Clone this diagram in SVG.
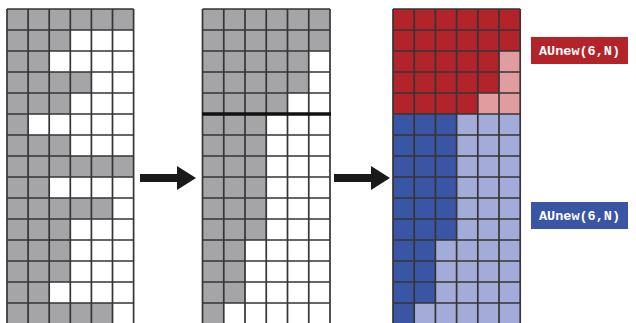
<svg xmlns="http://www.w3.org/2000/svg" width="636" height="323" viewBox="0 0 636 323">
<style>
.bg{fill:#ffffff}
.gray{fill:#a5a5a7}
.red{fill:#b3242a}
.pink{fill:#e09c9f}
.blue{fill:#3a55a3}
.lblue{fill:#a3acd8}
.grid{fill:none;stroke:#353535;stroke-width:1.7}
.split{stroke:#111;stroke-width:3.5}
.arrow{fill:#1a1a1a}
.lbl{font-family:"Liberation Mono","DejaVu Sans Mono",monospace;font-weight:bold;font-size:13.5px;fill:#ffffff;text-anchor:middle}
</style>
<rect width="636" height="323" fill="#ffffff"/>

<g id="grid-input">
<rect class="bg" x="7" y="9" width="126.6" height="315"/>
<rect class="gray" x="7" y="9" width="126.6" height="21"/>
<rect class="gray" x="7" y="30" width="63.3" height="21"/>
<rect class="gray" x="7" y="51" width="42.2" height="21"/>
<rect class="gray" x="7" y="72" width="84.4" height="21"/>
<rect class="gray" x="7" y="93" width="63.3" height="21"/>
<rect class="gray" x="7" y="114" width="21.1" height="21"/>
<rect class="gray" x="7" y="135" width="63.3" height="21"/>
<rect class="gray" x="7" y="156" width="126.6" height="21"/>
<rect class="gray" x="7" y="177" width="42.2" height="21"/>
<rect class="gray" x="7" y="198" width="105.5" height="21"/>
<rect class="gray" x="7" y="219" width="63.3" height="21"/>
<rect class="gray" x="7" y="240" width="63.3" height="21"/>
<rect class="gray" x="7" y="261" width="63.3" height="21"/>
<rect class="gray" x="7" y="282" width="42.2" height="21"/>
<rect class="gray" x="7" y="303" width="105.5" height="21"/>
<path class="grid" d="M7 9V324M28.1 9V324M49.2 9V324M70.3 9V324M91.4 9V324M112.5 9V324M133.6 9V324M7 9H133.6M7 30H133.6M7 51H133.6M7 72H133.6M7 93H133.6M7 114H133.6M7 135H133.6M7 156H133.6M7 177H133.6M7 198H133.6M7 219H133.6M7 240H133.6M7 261H133.6M7 282H133.6M7 303H133.6"/>
</g>

<g id="grid-sorted">
<rect class="bg" x="202.5" y="9" width="127.5" height="315"/>
<path class="gray" d="M202.5 9H330V51H308.75V93H287.5V114H266.25V240H245V303H223.75V324H202.5Z"/>
<path class="grid" d="M202.5 9V324M223.75 9V324M245 9V324M266.25 9V324M287.5 9V324M308.75 9V324M330 9V324M202.5 9H330M202.5 30H330M202.5 51H330M202.5 72H330M202.5 93H330M202.5 135H330M202.5 156H330M202.5 177H330M202.5 198H330M202.5 219H330M202.5 240H330M202.5 261H330M202.5 282H330M202.5 303H330"/>
<path class="split" d="M202 114H331"/>
</g>

<g id="grid-split">
<rect class="pink" x="393" y="9" width="127.2" height="105"/>
<rect class="lblue" x="393" y="114" width="127.2" height="210"/>
<path class="red" d="M393 9H520.2V51H499V93H477.8V114H393Z"/>
<path class="blue" d="M393 114H456.6V240H435.4V303H414.2V324H393Z"/>
<path class="grid" d="M393 9V324M414.2 9V324M435.4 9V324M456.6 9V324M477.8 9V324M499 9V324M520.2 9V324M393 9H520.2M393 30H520.2M393 51H520.2M393 72H520.2M393 93H520.2M393 114H520.2M393 135H520.2M393 156H520.2M393 177H520.2M393 198H520.2M393 219H520.2M393 240H520.2M393 261H520.2M393 282H520.2M393 303H520.2"/>
</g>

<g id="label-red">
<rect x="531" y="37" width="97" height="27" fill="#b3242a"/>
<text class="lbl" x="579.5" y="55">AUnew(6,N)</text>
</g>

<g id="label-blue">
<rect x="531" y="202" width="97" height="27" fill="#3a55a3"/>
<text class="lbl" x="579.5" y="220">AUnew(6,N)</text>
</g>

<g id="connectors">
<path class="arrow" d="M140 174H177V166L196 178L177 190V182H140Z"/>
<path class="arrow" d="M334 174H371V166L390 178L371 190V182H334Z"/>
</g>
</svg>
